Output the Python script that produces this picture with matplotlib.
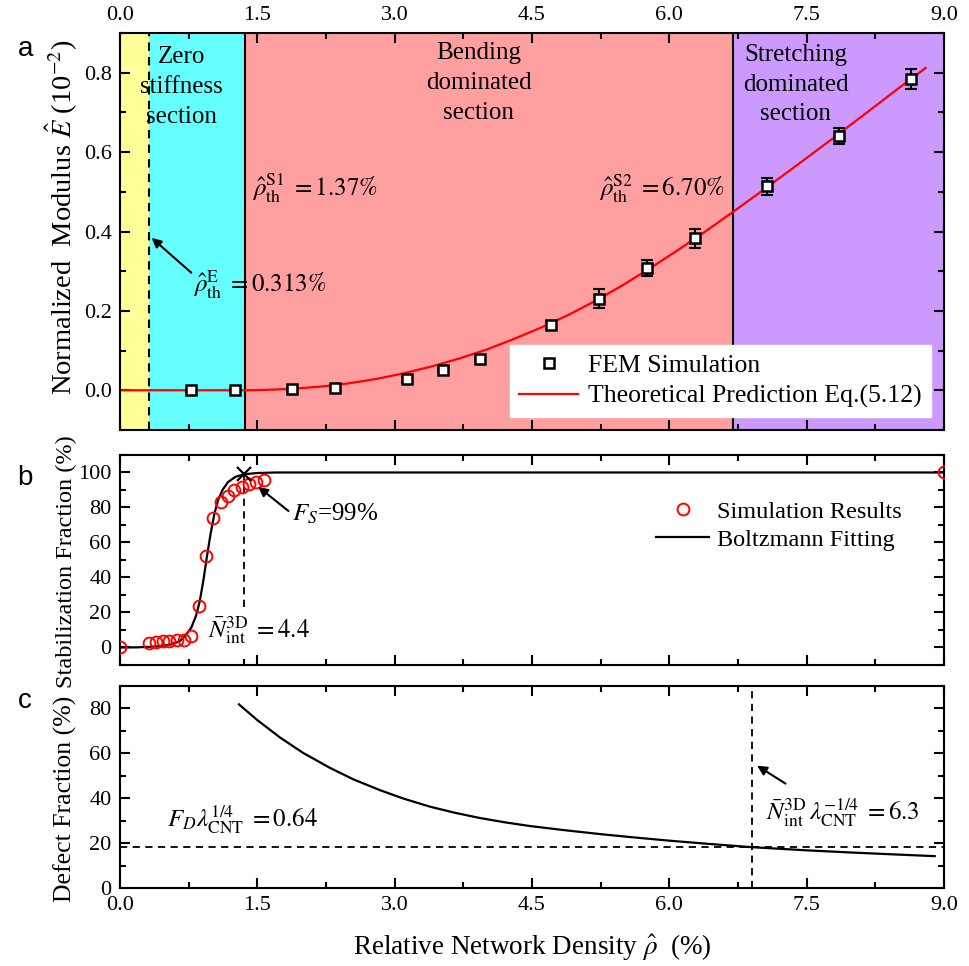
import numpy as np
import matplotlib
matplotlib.use("Agg")
import matplotlib.pyplot as plt
from matplotlib.ticker import MultipleLocator

plt.rcParams["font.family"] = ["Liberation Serif", "DejaVu Serif"]
plt.rcParams["mathtext.fontset"] = "stix"
plt.rcParams["axes.linewidth"] = 1.5

# ---- thresholds (relative density, %) ----
RHO_E = 0.313
RHO_S1 = 1.37
RHO_S2 = 6.70
RHO_FS = 1.36       # F_S = 99 % point of the Boltzmann fit
FS_VALUE = 99.0
RHO_N63 = 6.90      # N_int * lambda^-1/4 = 6.3
FD_LEVEL = 18.2     # F_D * lambda^1/4 = 0.64
XMAX = 9.0

# ---- panel a: normalized modulus ----
fem_rho = [0.78, 1.26, 1.88, 2.35, 3.14, 3.53, 3.93, 4.71, 5.23, 5.76, 6.28, 7.07, 7.85, 8.64]
fem_E = [0.0, 0.0, 0.002, 0.006, 0.028, 0.052, 0.080, 0.164, 0.231, 0.308, 0.383, 0.514, 0.641, 0.784]
fem_err = [0.004, 0.004, 0.004, 0.005, 0.006, 0.005, 0.004, 0.010, 0.023, 0.020, 0.024, 0.022, 0.021, 0.026]

theory_rho = [0.0, 1.37, 1.6, 1.9, 2.2, 2.5, 2.8, 3.1, 3.4, 3.7, 4.0, 4.3, 4.6, 4.9,
              5.2, 5.5, 5.8, 6.1, 6.4, 6.7, 7.0, 7.4, 7.8, 8.2, 8.5, 8.8]
theory_E = [0.0, 0.0, 0.001, 0.004, 0.0094, 0.0175, 0.0286, 0.0427, 0.0598, 0.0796, 0.1021,
            0.129, 0.158, 0.190, 0.226, 0.266, 0.309, 0.354, 0.401, 0.450, 0.500, 0.568,
            0.637, 0.707, 0.760, 0.812]

# ---- panel b: stabilization fraction ----
sim_rho = [0.0, 0.317, 0.39, 0.47, 0.54, 0.62, 0.70, 0.78, 0.86, 0.94, 1.02, 1.10,
           1.18, 1.25, 1.33, 1.41, 1.49, 1.57, 9.0]
sim_fs = [0.0, 2.3, 2.9, 3.6, 3.6, 4.0, 4.0, 6.5, 23.8, 52.4, 73.9, 83.0,
          86.5, 89.9, 91.8, 93.7, 94.6, 95.8, 100.0]

boltz_rho = [0.0, 0.2, 0.4, 0.55, 0.65, 0.72, 0.78, 0.83, 0.87, 0.91, 0.95, 0.99,
             1.03, 1.07, 1.12, 1.18, 1.26, 1.36, 1.5, 1.7, 9.0]
boltz_fs = [0.0, 0.1, 0.6, 1.6, 3.5, 7.0, 11.5, 18.0, 26.0, 38.0, 52.0, 65.0,
            76.0, 84.0, 90.0, 94.5, 97.5, 99.0, 99.7, 100.0, 100.0]

# ---- panel c: defect fraction ----
defect_rho = [1.30, 1.50, 1.75, 2.0, 2.29, 2.55, 2.84, 3.1, 3.39, 3.65, 3.93, 4.2, 4.48,
              4.85, 5.25, 5.6, 6.0, 6.45, 6.9, 7.5, 8.0, 8.5, 8.9]
defect_fd = [81.8, 74.8, 67.0, 60.2, 53.6, 48.4, 43.6, 39.8, 36.2, 33.6, 31.2, 29.3, 27.6,
             25.8, 24.0, 22.6, 21.1, 19.6, 18.2, 16.8, 15.8, 14.9, 14.2]

TICK_FS = 16
NOTE_FS = 18

fig = plt.figure(figsize=(9.69, 9.66), dpi=100)
L, W = 0.1238, 0.8503
ax_a = fig.add_axes([L, 0.5549, W, 0.4109])
ax_b = fig.add_axes([L, 0.3116, W, 0.2174])
ax_c = fig.add_axes([L, 0.0807, W, 0.2092])

for ax in (ax_a, ax_b, ax_c):
    ax.set_xlim(0, XMAX)
    ax.xaxis.set_major_locator(MultipleLocator(1.5))
    ax.xaxis.set_minor_locator(MultipleLocator(0.75))
    ax.tick_params(which="both", direction="in", top=True, right=True,
                   labelsize=TICK_FS, width=1.5, pad=6)
    ax.tick_params(which="major", length=7)
    ax.tick_params(which="minor", length=4)
    ax.xaxis.set_major_formatter(plt.FuncFormatter(lambda v, p: f"{v:.1f}"))

arrow = dict(arrowstyle="-|>", color="black", lw=1.5, mutation_scale=14, shrinkA=0, shrinkB=0)

# ---- panel a ----
ax_a.set_ylim(-0.1, 0.9)
ax_a.yaxis.set_major_locator(MultipleLocator(0.2))
ax_a.yaxis.set_minor_locator(MultipleLocator(0.1))
ax_a.yaxis.set_major_formatter(plt.FuncFormatter(lambda v, p: f"{v:.1f}"))
ax_a.tick_params(labeltop=True, labelbottom=False)

ax_a.axvspan(0, RHO_E, color="#FFFF99", lw=0, zorder=0)
ax_a.axvspan(RHO_E, RHO_S1, color="#66FFFF", lw=0, zorder=0)
ax_a.axvspan(RHO_S1, RHO_S2, color="#FF9F9F", lw=0, zorder=0)
ax_a.axvspan(RHO_S2, XMAX, color="#CC99FF", lw=0, zorder=0)
ax_a.axvline(RHO_E, color="black", ls=(0, (4, 3)), lw=1.5, zorder=1)
ax_a.axvline(RHO_S1, color="black", lw=1.5, zorder=1)
ax_a.axvline(RHO_S2, color="black", lw=1.5, zorder=1)

ax_a.plot(theory_rho, theory_E, color="red", lw=1.6, zorder=2,
          label="Theoretical Prediction Eq.(5.12)")
ax_a.errorbar(fem_rho, fem_E, yerr=fem_err, fmt="none", ecolor="black",
              elinewidth=1.5, capsize=4, capthick=1.5, zorder=3)
ax_a.plot(fem_rho, fem_E, ls="none", marker="s", ms=7.5, mfc="white", mec="black",
          mew=1.8, zorder=4, label="FEM Simulation")

sec_kw = dict(ha="center", va="center", fontsize=NOTE_FS, linespacing=1.45)
ax_a.text(0.67, 0.764, "Zero\nstiffness\nsection", **sec_kw)
ax_a.text(3.92, 0.774, "Bending\ndominated\nsection", **sec_kw)
ax_a.text(7.38, 0.770, "Stretching\ndominated\nsection", **sec_kw)
ax_a.text(1.44, 0.489, r"$\hat{\rho}_{\mathrm{th}}^{\mathrm{S1}}\;=1.37\%$", ha="left",
          va="baseline", fontsize=NOTE_FS)
ax_a.text(6.61, 0.489, r"$\hat{\rho}_{\mathrm{th}}^{\mathrm{S2}}\;=6.70\%$", ha="right",
          va="baseline", fontsize=NOTE_FS)
ax_a.text(0.80, 0.246, r"$\hat{\rho}_{\mathrm{th}}^{\mathrm{E}}\;=0.313\%$", ha="left",
          va="baseline", fontsize=NOTE_FS, zorder=5)
ax_a.annotate("", xy=(0.346, 0.384), xytext=(0.78, 0.296), arrowprops=arrow)

ax_a.set_ylabel(r"Normalized  Modulus $\hat{E}$ (10$^{-2}$)", fontsize=20.5)
ax_a.yaxis.set_label_coords(-0.050, 0.536)
handles, labels = ax_a.get_legend_handles_labels()
ax_a.legend(handles[::-1], labels[::-1], loc="lower right", fontsize=18.5,
            frameon=True, fancybox=False, framealpha=1, edgecolor="white",
            borderaxespad=0.5, handlelength=2.3, handletextpad=0.4,
            labelspacing=0.3, borderpad=0.35)

# ---- panel b ----
ax_b.set_ylim(-10, 110)
ax_b.yaxis.set_major_locator(MultipleLocator(20))
ax_b.yaxis.set_minor_locator(MultipleLocator(10))
ax_b.set_xticks(list(np.arange(0, XMAX + 0.01, 0.75)) + [RHO_FS], minor=True)
ax_b.tick_params(labelbottom=False)
ax_b.plot(boltz_rho, boltz_fs, color="black", lw=1.6, zorder=2, label="Boltzmann Fitting")
ax_b.plot(sim_rho, sim_fs, ls="none", marker="o", ms=8.5, mfc="none", mec="red",
          mew=1.4, zorder=3, label="Simulation Results")
ax_b.plot([RHO_FS, RHO_FS], [23, FS_VALUE], color="black", ls=(0, (4, 3)), lw=1.3, zorder=1)
ax_b.plot([RHO_FS], [FS_VALUE], marker="x", ms=10, mew=1.6, color="black", zorder=4)
ax_b.annotate("", xy=(1.51, 91.8), xytext=(1.84, 78), arrowprops=arrow)
ax_b.text(1.875, 72.2, r"$F_S$=99%", ha="left", va="baseline", fontsize=NOTE_FS)
ax_b.text(0.965, 5.7, r"$\bar{N}_{\mathrm{int}}^{\mathrm{3D}}\;=4.4$", ha="left",
          va="baseline", fontsize=NOTE_FS)
ax_b.set_ylabel("Stabilization Fraction (%)", fontsize=17.5)
ax_b.yaxis.set_label_coords(-0.052, 0.492)
hb, lb = ax_b.get_legend_handles_labels()
ax_b.legend(hb[::-1], lb[::-1], loc="upper right", bbox_to_anchor=(0.972, 0.875),
            fontsize=17.5, frameon=False, handlelength=2.2, handletextpad=0.3,
            labelspacing=0.25, borderpad=0.3)

# ---- panel c ----
ax_c.set_ylim(0, 90)
ax_c.yaxis.set_major_locator(MultipleLocator(20))
ax_c.yaxis.set_minor_locator(MultipleLocator(10))
ax_c.plot(defect_rho, defect_fd, color="black", lw=1.6, zorder=2)
ax_c.axhline(FD_LEVEL, color="black", ls=(0, (4, 3)), lw=1.3, zorder=1)
ax_c.axvline(RHO_N63, color="black", ls=(0, (4, 3)), lw=1.3, zorder=1)
ax_c.text(0.51, 27.4, r"$F_D\lambda_{\mathrm{CNT}}^{1/4}\;=0.64$", ha="left",
          va="baseline", fontsize=NOTE_FS)
ax_c.text(7.06, 30.4, r"$\bar{N}_{\mathrm{int}}^{\mathrm{3D}}\,\lambda_{\mathrm{CNT}}^{-1/4}\;=6.3$",
          ha="left", va="baseline", fontsize=NOTE_FS)
ax_c.annotate("", xy=(6.96, 54.5), xytext=(7.27, 46.5), arrowprops=arrow)
ax_c.set_ylabel("Defect Fraction (%)", fontsize=18.5)
ax_c.yaxis.set_label_coords(-0.052, 0.44)
ax_c.set_xlabel(r"Relative Network Density $\hat{\rho}$  (%)", fontsize=19.5, labelpad=12)

# panel letters
for letter, y in (("a", 0.949), ("b", 0.505), ("c", 0.274)):
    fig.text(0.018, y, letter, fontsize=20, family="Liberation Sans", ha="left", va="center")

fig.savefig("out.png", dpi=100)
